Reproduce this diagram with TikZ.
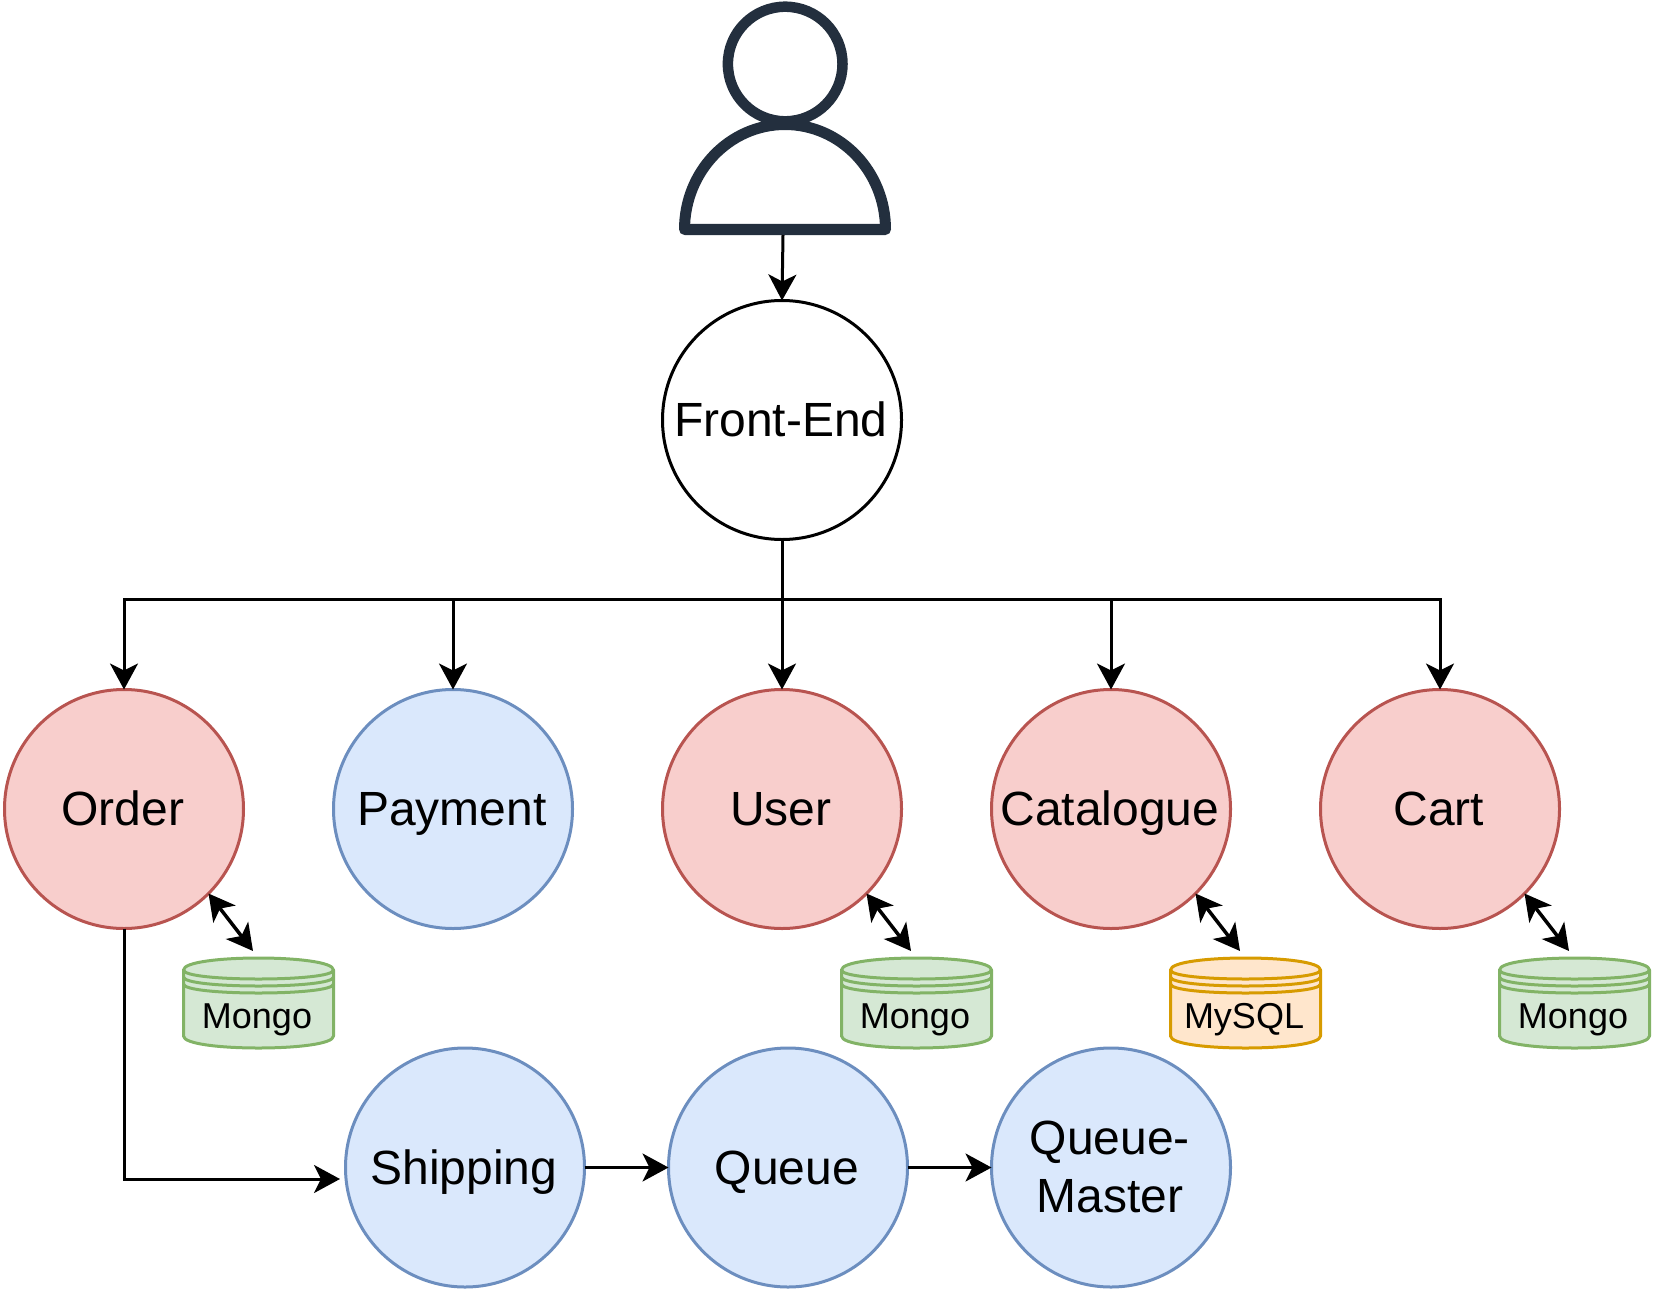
\documentclass[tikz,border=0pt]{standalone}
\usepackage{fontspec}
\setmainfont{Liberation Sans}
\usetikzlibrary{arrows.meta}
\definecolor{rs}{HTML}{B85450}\definecolor{rf}{HTML}{F8CECC}
\definecolor{bs}{HTML}{6C8EBF}\definecolor{bf}{HTML}{DAE8FC}
\definecolor{gs}{HTML}{82B366}\definecolor{gf}{HTML}{D5E8D4}
\definecolor{os}{HTML}{D79B00}\definecolor{of}{HTML}{FFE6CC}
\definecolor{ink}{HTML}{232F3E}
\tikzset{
  svc/.style={circle,draw,line width=3pt,minimum size=239pt,inner sep=0pt,outer sep=0pt,
    font=\fontsize{48}{58}\selectfont,align=center,text=black},
  oneline/.style={text height=33pt,text depth=0pt,execute at end node={\kern2.5pt}},
  redsvc/.style={svc,oneline,draw=rs,fill=rf},
  bluesvc/.style={svc,draw=bs,fill=bf},
  conn/.style={draw=black,line width=3pt,-{Stealth[length=26pt,width=28pt,inset=7pt]}},
  dbl/.style={draw=black,line width=3.5pt,{Stealth[length=26pt,width=28pt,inset=7pt]}-{Stealth[length=26pt,width=28pt,inset=7pt]}},
  dbtext/.style={inner sep=0pt,outer sep=0pt,font=\fontsize{36}{42}\selectfont,text=black},
}
\newcommand{\dbcyl}[5]{% x, stroke, fill, name, text
  \begin{scope}[shift={(#1+0.5,958)},line width=3pt,draw=#2]
    \path[fill=#3,draw=#2,line join=round] (0,12) .. controls (0,-4) and (150,-4) .. (150,12)
      -- (150,78) .. controls (150,94) and (0,94) .. (0,78) -- cycle;
    \draw (0,12) .. controls (0,24) and (150,24) .. (150,12);
    \draw (0,19) .. controls (0,31) and (150,31) .. (150,19);
    \draw (0,26) .. controls (0,38) and (150,38) .. (150,26);
  \end{scope}
  \node[dbtext] (#4) at (#1+74,1020) {#5};
}
\begin{document}
\begin{tikzpicture}[x=1pt,y=-1pt]
\useasboundingbox (0,0) rectangle (1654,1300);
% user icon
\draw[ink,line width=10.5pt] (785.2,64) circle[radius=57.3];
\draw[ink,line width=11pt,line join=round,fill=white] (684.5,229.5) arc[start angle=180,end angle=360,x radius=100.5,y radius=105] -- cycle;
\coordinate (userbase) at (783,235);
% services
\node[svc,oneline,draw=black,fill=white] (fe) at (782,420) {Front-End};
\node[redsvc] (order) at (124,809) {Order};
\node[bluesvc,oneline] (payment) at (453,809) {Payment};
\node[redsvc] (user) at (782,809) {User};
\node[redsvc] (catalogue) at (1111,809) {Catalogue};
\node[redsvc] (cart) at (1440,809) {Cart};
\node[bluesvc,oneline] (shipping) at (465,1167.5) {Shipping};
\node[bluesvc,oneline] (queue) at (788,1167.5) {Queue};
\node[bluesvc,text depth=1pt] (master) at (1111,1167.5) {Queue-\kern2.5pt\\Master\kern2.5pt};
% databases
\dbcyl{183}{gs}{gf}{dbo}{Mongo}
\dbcyl{841}{gs}{gf}{dbu}{Mongo}
\dbcyl{1170}{os}{of}{dbc}{MySQL}
\dbcyl{1499}{gs}{gf}{dbk}{Mongo}
% connectors
\draw[conn] (userbase) -- (fe.north);
\coordinate (bus) at (782,599);
\draw[conn] (fe.south) -- (user.north);
\foreach \t in {order,payment,catalogue,cart}{
  \draw[conn] (bus) -| (\t.north);
}
\coordinate (shipin) at (340,1179);
\draw[conn] (order.south) |- (shipin);
\draw[conn] (shipping.east) -- (queue.west);
\draw[conn] (queue.east) -- (master.west);
\coordinate (o1) at (253,951);
\coordinate (o2) at (911,951);
\coordinate (o3) at (1240,951);
\coordinate (o4) at (1569,951);
\draw[dbl] (order.-45) -- (o1);
\draw[dbl] (user.-45) -- (o2);
\draw[dbl] (catalogue.-45) -- (o3);
\draw[dbl] (cart.-45) -- (o4);
\end{tikzpicture}
\end{document}
